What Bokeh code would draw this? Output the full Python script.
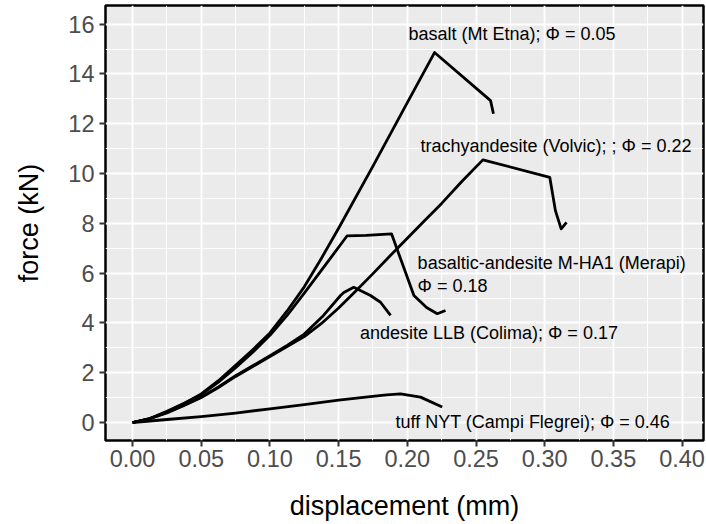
from bokeh.plotting import figure
from bokeh.models import Range1d, FixedTicker, ColumnDataSource
from bokeh.core.properties import value
from bokeh.embed import file_html
from bokeh.resources import INLINE

# ---- data ----
basalt_x = [0.0, 0.0125, 0.025, 0.0375, 0.05, 0.0625, 0.075, 0.0875, 0.10, 0.1125, 0.125, 0.1375,
            0.15, 0.175, 0.20, 0.2198, 0.2606, 0.2627]
basalt_y = [0.0, 0.15, 0.42, 0.75, 1.15, 1.68, 2.30, 2.92, 3.60, 4.48, 5.45, 6.60,
            7.80, 10.30, 12.85, 14.86, 12.93, 12.40]

trachy_x = [0.0, 0.0125, 0.025, 0.0375, 0.05, 0.0625, 0.075, 0.0875, 0.10, 0.1125, 0.125, 0.1375,
            0.15, 0.1625, 0.175, 0.1875, 0.20, 0.2125, 0.225, 0.24, 0.255,
            0.3037, 0.3078, 0.312, 0.3159]
trachy_y = [0.0, 0.15, 0.38, 0.68, 1.00, 1.40, 1.85, 2.25, 2.65, 3.05, 3.45, 3.98,
            4.60, 5.28, 5.98, 6.70, 7.40, 8.10, 8.80, 9.70, 10.55,
            9.85, 8.51, 7.78, 8.04]

merapi_x = [0.0, 0.0125, 0.025, 0.0375, 0.05, 0.0625, 0.075, 0.0875, 0.10, 0.1125, 0.125, 0.14,
            0.1562, 0.17, 0.1885, 0.2048, 0.214, 0.2218, 0.2278]
merapi_y = [0.0, 0.16, 0.45, 0.77, 1.12, 1.62, 2.20, 2.82, 3.50, 4.30, 5.20, 6.30,
            7.50, 7.52, 7.58, 5.10, 4.62, 4.37, 4.50]

colima_x = [0.0, 0.0125, 0.025, 0.0375, 0.05, 0.0625, 0.075, 0.0875, 0.10, 0.1125, 0.125, 0.139,
            0.1514, 0.1538, 0.161, 0.1732, 0.1805, 0.1878]
colima_y = [0.0, 0.16, 0.40, 0.70, 1.02, 1.43, 1.88, 2.28, 2.68, 3.10, 3.55, 4.30,
            5.10, 5.22, 5.43, 5.10, 4.83, 4.30]

tuff_x = [0.0, 0.025, 0.05, 0.075, 0.10, 0.125, 0.15, 0.173, 0.185, 0.195, 0.2096, 0.2254]
tuff_y = [0.0, 0.12, 0.24, 0.38, 0.55, 0.72, 0.90, 1.04, 1.11, 1.15, 1.02, 0.62]

label_texts = ["basalt (Mt Etna); \u03a6 = 0.05",
               "trachyandesite (Volvic); ; \u03a6 = 0.22",
               "basaltic-andesite M-HA1 (Merapi)",
               "\u03a6 = 0.18",
               "andesite LLB (Colima); \u03a6 = 0.17",
               "tuff NYT (Campi Flegrei); \u03a6 = 0.46"]
label_x = [0.2009, 0.2096, 0.2075, 0.2075, 0.1655, 0.1914]
label_y = [15.62, 11.12, 6.40, 5.48, 3.59, 0.04]

x_ticks = [0.0, 0.05, 0.10, 0.15, 0.20, 0.25, 0.30, 0.35, 0.40]
x_tick_labels = ["0.00", "0.05", "0.10", "0.15", "0.20", "0.25", "0.30", "0.35", "0.40"]
x_minor = [0.025, 0.075, 0.125, 0.175, 0.225, 0.275, 0.325, 0.375]
y_ticks = [0, 2, 4, 6, 8, 10, 12, 14, 16]
y_minor = [1, 3, 5, 7, 9, 11, 13, 15]

FONT = "Liberation Sans"

p = figure(width=706, height=524,
           x_range=Range1d(-0.0197, 0.4156), y_range=Range1d(-0.723, 16.75),
           output_backend="svg", toolbar_location=None,
           min_border_left=105, min_border_right=3, min_border_top=5, min_border_bottom=84)

p.background_fill_color = "#EBEBEB"
p.border_fill_color = "white"
p.outline_line_color = "black"
p.outline_line_width = 2.5

p.xaxis.ticker = FixedTicker(ticks=x_ticks, minor_ticks=x_minor)
p.yaxis.ticker = FixedTicker(ticks=y_ticks, minor_ticks=y_minor)
p.xaxis.major_label_overrides = {t: l for t, l in zip(x_ticks, x_tick_labels)}

for g in (p.xgrid, p.ygrid):
    g.grid_line_color = "white"
    g.grid_line_width = 1.8
    g.minor_grid_line_color = "white"
    g.minor_grid_line_width = 0.9

for ax in (p.xaxis, p.yaxis):
    ax.axis_line_color = None
    ax.major_tick_line_color = "#333333"
    ax.major_tick_line_width = 2
    ax.major_tick_out = 6
    ax.major_tick_in = 0
    ax.minor_tick_line_color = None
    ax.major_label_text_font = FONT
    ax.major_label_text_font_size = "23.5px"
    ax.major_label_text_color = "#4D4D4D"
    ax.axis_label_text_font = FONT
    ax.axis_label_text_font_size = "27px"
    ax.axis_label_text_font_style = "normal"
    ax.axis_label_text_color = "black"

p.xaxis.major_label_standoff = 3
p.yaxis.major_label_standoff = 5
p.xaxis.axis_label = "displacement (mm)"
p.yaxis.axis_label = "force (kN)"
p.xaxis.axis_label_standoff = 21
p.yaxis.axis_label_standoff = 21

series = [(basalt_x, basalt_y), (trachy_x, trachy_y), (merapi_x, merapi_y),
          (colima_x, colima_y), (tuff_x, tuff_y)]
for xs, ys in series:
    p.line(xs, ys, line_color="black", line_width=2.8, line_join="round")

src = ColumnDataSource(dict(x=label_x, y=label_y, t=label_texts))
p.text(x="x", y="y", text="t", source=src, text_font=value(FONT),
       text_font_size="18px", text_align="left", text_baseline="middle",
       text_color="black")

open("out.html", "w").write(file_html(p, INLINE))
